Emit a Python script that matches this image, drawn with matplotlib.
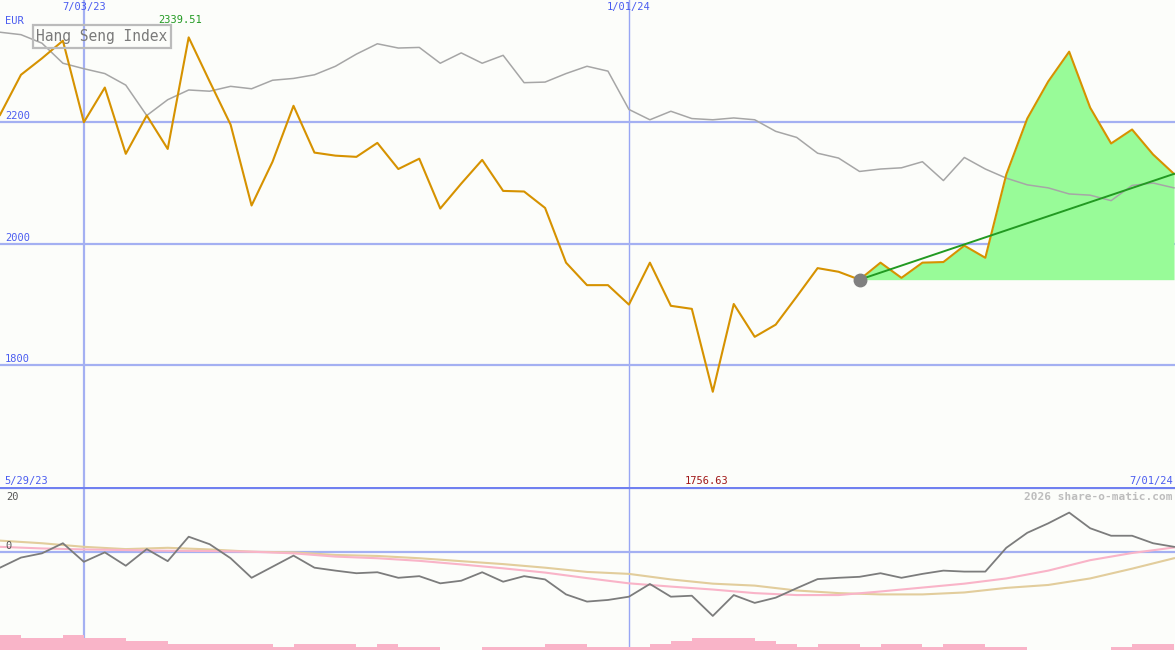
import matplotlib
matplotlib.use("Agg")
import matplotlib.pyplot as plt
import matplotlib.transforms as mtransforms
import matplotlib.dates as mdates
import numpy as np
import pandas as pd

# weekly closes (EUR), 5 Jun 2023 .. 1 Jul 2024
dates = pd.date_range("2023-06-05", periods=57, freq="W-MON")
price = [2212, 2278, 2305, 2334, 2200, 2257, 2148, 2211, 2156, 2339.51,
         2267, 2196, 2063, 2135, 2227, 2150, 2145, 2143, 2166, 2123,
         2140, 2058, 2099, 2138, 2087, 2086, 2059, 1969, 1932, 1932,
         1900, 1969, 1898, 1893, 1756.63, 1901, 1847, 1867, 1913, 1960,
         1954, 1941, 1969, 1944, 1969, 1970, 1997, 1977, 2114, 2206,
         2267, 2316, 2224, 2165, 2188, 2147, 2115]
# Hang Seng Index, rescaled onto the EUR axis
hsi = [2348, 2344, 2330, 2297, 2288, 2280, 2261, 2211, 2237, 2253,
       2251, 2259, 2255, 2269, 2272, 2278, 2292, 2312, 2329, 2322,
       2323, 2297, 2314, 2297, 2310, 2265, 2266, 2280, 2292, 2284,
       2221, 2204, 2218, 2206, 2204, 2207, 2204, 2185, 2175, 2149,
       2141, 2119, 2123, 2125, 2135, 2104, 2142, 2123, 2108, 2097,
       2092, 2082, 2080, 2071, 2096, 2100, 2092]
# relative strength oscillator (lower panel)
osc = [-4.8, -1.7, -0.4, 2.7, -3.0, -0.1, -4.2, 0.9, -2.8, 4.7,
       2.4, -1.9, -7.9, -4.5, -1.1, -4.8, -5.7, -6.5, -6.2, -7.9,
       -7.4, -9.6, -8.8, -6.2, -9.1, -7.4, -8.4, -13.0, -15.2, -14.7,
       -13.7, -9.8, -13.7, -13.4, -19.6, -13.2, -15.6, -14.0, -11.1, -8.3,
       -7.9, -7.6, -6.5, -7.9, -6.7, -5.7, -6.0, -6.0, 1.3, 5.9,
       8.8, 12.1, 7.3, 5.0, 5.0, 2.7, 1.6]
# moving averages of the oscillator, every second week
ma_dates = dates[::2]
ma_pink = [1.6, 1.1, 0.8, 0.6, 0.4, 0.3, 0.1, -0.4, -1.4, -1.9,
           -2.7, -3.8, -5.0, -6.3, -8.0, -9.6, -10.6, -11.5, -12.6, -13.2,
           -13.2, -12.1, -10.9, -9.7, -8.1, -5.7, -2.5, -0.3, 1.4]
ma_tan = [3.5, 2.7, 1.6, 0.9, 1.3, 0.8, 0.1, -0.1, -0.9, -1.2,
          -1.9, -2.8, -3.7, -4.8, -6.1, -6.7, -8.4, -9.7, -10.3, -11.8,
          -12.6, -13.0, -13.0, -12.4, -11.0, -10.1, -8.1, -5.1, -1.9]
# volume level per week
vol = [5, 4, 4, 5, 4, 4, 3, 3, 2, 2, 2, 2, 2, 1, 2, 2, 2, 1, 2, 1,
       1, 0, 0, 1, 1, 1, 2, 2, 1, 1, 1, 2, 3, 4, 4, 4, 3, 2, 1, 2,
       2, 1, 2, 2, 1, 2, 2, 1, 1, 0, 0, 0, 0, 1, 2, 2]

start_idx = 41  # start of the highlighted run

BG = "#fcfdfa"
GRID = "#a4b0f2"
BLUE_TXT = "#4a5cf0"
MONO = "DejaVu Sans Mono"

W, H = 1175, 650
fig = plt.figure(figsize=(W / 100, H / 100), dpi=100, facecolor=BG)
top = fig.add_axes([0, 163 / H, 1, 487 / H], facecolor=BG)
bot = fig.add_axes([0, 0, 1, 163 / H], facecolor=BG)

xmin = pd.Timestamp("2023-06-05")
xmax = pd.Timestamp("2024-07-01") + pd.Timedelta(hours=8)
for ax in (top, bot):
    ax.set_xlim(xmin, xmax)
    for s in ax.spines.values():
        s.set_visible(False)
    ax.set_xticks([])
    ax.set_yticks([])
    ax.axvline(pd.Timestamp("2023-07-03"), color=GRID, lw=1.6, zorder=1)
    ax.axvline(pd.Timestamp("2024-01-01"), color="#98a6f4", lw=1.0, zorder=1)

# ---- price panel
top.set_ylim(1600, 2401)
ylab = mtransforms.blended_transform_factory(mtransforms.IdentityTransform(),
                                             top.transData)
for lvl in (1800, 2000, 2200):
    top.axhline(lvl, color=GRID, lw=1.6, zorder=1)
    top.text(5, lvl + 2, str(lvl), transform=ylab,
             color=BLUE_TXT, fontsize=7.5, family=MONO, va="bottom")

base = price[start_idx]
top.fill_between(dates[start_idx:], base, price[start_idx:],
                 color="#98fb98", lw=0, zorder=2)
top.plot(dates, hsi, color="#a6a6a6", lw=1.1, zorder=3)
top.plot(dates, price, color="#d69200", lw=1.5, zorder=4)
top.plot([dates[start_idx], dates[-1]], [price[start_idx], price[-1]],
         color="#229a22", lw=1.4, zorder=5)
top.plot(dates[start_idx], base, "o", color="#808080", ms=9, zorder=6)

xfm_top = mtransforms.blended_transform_factory(top.transData, top.transAxes)
top.text(pd.Timestamp("2023-07-03"), 0.995, "7/03/23", transform=xfm_top,
         ha="center", va="top", color=BLUE_TXT, fontsize=7.5, family=MONO)
top.text(pd.Timestamp("2024-01-01"), 0.995, "1/01/24", transform=xfm_top,
         ha="center", va="top", color=BLUE_TXT, fontsize=7.5, family=MONO)
top.text(0.004, 0.968, "EUR", transform=top.transAxes, ha="left", va="top",
         color=BLUE_TXT, fontsize=7.5, family=MONO)

i_max = int(np.argmax(price))
i_min = int(np.argmin(price))
top.text(dates[i_max] - pd.Timedelta(days=3), 0.97, f"{price[i_max]:.2f}",
         transform=xfm_top, ha="center", va="top", color="#229a22",
         fontsize=7.5, family=MONO)
top.text(dates[i_min] - pd.Timedelta(days=2), 0.003, f"{price[i_min]:.2f}",
         transform=xfm_top, ha="center", va="bottom", color="#a01818",
         fontsize=7.5, family=MONO)
top.text(0.004, 0.003, "5/29/23", transform=top.transAxes, ha="left",
         va="bottom", color=BLUE_TXT, fontsize=7.5, family=MONO)
top.text(0.998, 0.003, "7/01/24", transform=top.transAxes, ha="right",
         va="bottom", color=BLUE_TXT, fontsize=7.5, family=MONO)

top.text(0.031, 0.925, "Hang Seng Index", transform=top.transAxes,
         ha="left", va="center", color="#7a7a7a", fontsize=10.5, family=MONO,
         zorder=7, bbox=dict(boxstyle="square,pad=0.25", fc="none",
                             ec="#bbbbbb", lw=1.6))

# ---- oscillator panel
bot.set_ylim(-30.05, 19.95)
bot.axhline(19.7, color="#7080f0", lw=1.6, zorder=6)
bot.axhline(0, color=GRID, lw=1.6, zorder=1)

vax = bot.twinx()
vax.set_ylim(0, 54)
vax.set_axis_off()
vax.stairs(vol, mdates.date2num(dates), fill=True, color="#f9b4c8",
           lw=0, zorder=1)

bot.plot(ma_dates, ma_tan, color="#e2cd9c", lw=1.5, zorder=2)
bot.plot(ma_dates, ma_pink, color="#f9b4c8", lw=1.5, zorder=3)
bot.plot(dates, osc, color="#7c7c7c", lw=1.3, zorder=4)

lab = mtransforms.blended_transform_factory(bot.transAxes, bot.transData)
bot.text(0.005, 18.3, "20", color="#555555", fontsize=7.5, family=MONO,
         va="top", transform=lab)
bot.text(0.005, 0.4, "0", color="#555555", fontsize=7.5, family=MONO,
         va="bottom", transform=lab)
bot.text(0.005, -29.6, "-30", color="#555555", fontsize=7.5, family=MONO,
         va="bottom", zorder=7, transform=lab)
bot.text(0.998, 18.5, "2026 share-o-matic.com", color="#bdbdbd",
         fontsize=8, family=MONO, fontweight="bold", ha="right", va="top",
         transform=lab)

fig.savefig("out.png", dpi=100, facecolor=BG)
